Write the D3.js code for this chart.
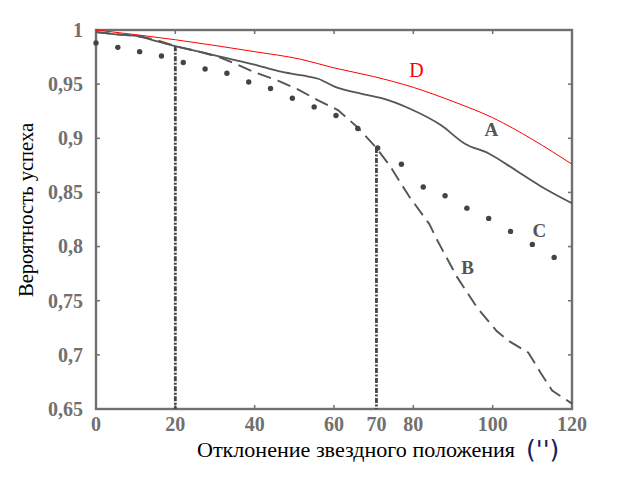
<!DOCTYPE html>
<html><head><meta charset="utf-8">
<script src="https://cdn.jsdelivr.net/npm/d3@7"></script>
<style>body{margin:0;background:#fff}svg{display:block}</style>
</head><body>
<script>
// ---- data ----
const xTicks = [0, 20, 40, 60, 80, 100, 120];
const yTicks = [0.65, 0.7, 0.75, 0.8, 0.85, 0.9, 0.95, 1];
const markerLines = [{x: 20, top: 0.985, label: null}, {x: 70.7, top: 0.891, label: "70"}];

const seriesD_x = [0, 20, 40, 51.6, 60, 70, 80, 90, 100, 110, 120];
const seriesD_y = [1, 0.991, 0.980, 0.973, 0.965, 0.957, 0.947, 0.934, 0.919, 0.899, 0.876];

const seriesA_x = [0, 5, 11, 15, 20, 26, 33, 40, 46, 52, 56, 60, 67, 72, 79, 87, 93, 99, 106, 112, 120];
const seriesA_y = [0.998, 0.996, 0.994, 0.990, 0.985, 0.980, 0.974, 0.968, 0.962, 0.958, 0.955, 0.948, 0.941, 0.937, 0.9275, 0.912, 0.895, 0.886, 0.870, 0.856, 0.840];

const seriesB_x = [0, 11, 15, 20, 26, 31, 35, 40, 46, 51, 56, 61, 66, 70.7, 74, 79, 84, 86, 91, 96, 101, 104, 109, 112, 115, 120];
const seriesB_y = [0.998, 0.994, 0.991, 0.985, 0.980, 0.975, 0.969, 0.961, 0.953, 0.945, 0.935, 0.926, 0.910, 0.891, 0.875, 0.846, 0.821, 0.806, 0.772, 0.744, 0.722, 0.713, 0.702, 0.684, 0.667, 0.655];

const seriesC_x = [0, 5.5, 11, 16.5, 22, 27.5, 33, 38.5, 44, 49.5, 55, 60.5, 66, 71, 77, 82.5, 88, 93.5, 99, 104.5, 110, 115.5];
const seriesC_y = [0.988, 0.984, 0.980, 0.976, 0.970, 0.964, 0.960, 0.952, 0.946, 0.937, 0.929, 0.921, 0.909, 0.891, 0.876, 0.855, 0.847, 0.8355, 0.826, 0.814, 0.802, 0.790];

const seriesLabels = [
  {name: "D", x: 80.8, y: 0.9568},
  {name: "A", x: 99.7, y: 0.9019},
  {name: "B", x: 93.7, y: 0.7747},
  {name: "C", x: 111.8, y: 0.809}
];
const yTitle = "Вероятность успеха";
const xTitle = "Отклонение звездного положения";
const xUnit = "('')";

// ---- chart ----
const W = 618, H = 478;
const svg = d3.select("body").append("svg").attr("width", W).attr("height", H);
const x = d3.scaleLinear().domain([0, 120]).range([96, 572]);
const y = d3.scaleLinear().domain([0.65, 1]).range([409, 30]);
const grey = "#707070", dark = "#555";
const zip = (xs, ys) => xs.map((v, i) => [v, ys[i]]);
const fmt = v => d3.format("~g")(v).replace(".", ",");
const serif = "'Liberation Serif', 'Times New Roman', serif";

// frame
svg.append("rect").attr("x", x(0)).attr("y", y(1)).attr("width", x(120) - x(0)).attr("height", y(0.65) - y(1))
  .attr("fill", "none").attr("stroke", grey).attr("stroke-width", 2.4);

// inner ticks
const tk = 4;
svg.append("g").selectAll("line").data(yTicks.slice(1, -1)).join("line")
  .attr("x1", x(0)).attr("x2", x(0) + tk).attr("y1", d => y(d)).attr("y2", d => y(d))
  .attr("stroke", grey).attr("stroke-width", 1.5);
svg.append("g").selectAll("line").data(yTicks.slice(1, -1)).join("line")
  .attr("x1", x(120)).attr("x2", x(120) - tk).attr("y1", d => y(d)).attr("y2", d => y(d))
  .attr("stroke", grey).attr("stroke-width", 1.5);
svg.append("g").selectAll("line").data(xTicks.slice(1, -1)).join("line")
  .attr("x1", d => x(d)).attr("x2", d => x(d)).attr("y1", y(1)).attr("y2", y(1) + tk)
  .attr("stroke", grey).attr("stroke-width", 1.5);
svg.append("g").selectAll("line").data(xTicks.slice(1, -1)).join("line")
  .attr("x1", d => x(d)).attr("x2", d => x(d)).attr("y1", y(0.65)).attr("y2", y(0.65) - tk)
  .attr("stroke", grey).attr("stroke-width", 1.5);

// tick labels
svg.append("g").selectAll("text").data(yTicks).join("text")
  .attr("x", 83).attr("y", d => y(d)).attr("dy", "0.34em").attr("text-anchor", "end")
  .attr("font-family", serif).attr("font-weight", "bold").attr("font-size", 20).attr("fill", grey)
  .text(fmt);
const xLab = xTicks.map(v => ({v, t: String(v)})).concat(markerLines.filter(m => m.label).map(m => ({v: m.x, t: m.label})));
svg.append("g").selectAll("text").data(xLab).join("text")
  .attr("x", d => x(d.v)).attr("y", 431).attr("text-anchor", "middle")
  .attr("font-family", serif).attr("font-weight", "bold").attr("font-size", 20).attr("fill", grey)
  .text(d => d.t);

// marker vertical dash-dot lines
svg.append("g").selectAll("line").data(markerLines).join("line")
  .attr("x1", d => x(d.x)).attr("x2", d => x(d.x)).attr("y1", d => y(d.top)).attr("y2", y(0.65))
  .attr("stroke", "#444").attr("stroke-width", 2.8).attr("stroke-dasharray", "5,1.5,2,1.5");

const line = d3.line().x(d => x(d[0])).y(d => y(d[1])).curve(d3.curveMonotoneX);

// D
svg.append("path").attr("d", line(zip(seriesD_x, seriesD_y))).attr("fill", "none")
  .attr("stroke", "#ff0000").attr("stroke-width", 1);
// A
svg.append("path").attr("d", line(zip(seriesA_x, seriesA_y))).attr("fill", "none")
  .attr("stroke", dark).attr("stroke-width", 1.8);
// B
svg.append("path").attr("d", d3.line().x(d => x(d[0])).y(d => y(d[1]))(zip(seriesB_x, seriesB_y))).attr("fill", "none")
  .attr("stroke", dark).attr("stroke-width", 1.9).attr("stroke-dasharray", "14,7");
// C
svg.append("g").selectAll("circle").data(zip(seriesC_x, seriesC_y)).join("circle")
  .attr("cx", d => x(d[0])).attr("cy", d => y(d[1])).attr("r", 2.7).attr("fill", "#444");

// series labels
svg.append("g").selectAll("text").data(seriesLabels).join("text")
  .attr("x", d => x(d.x)).attr("y", d => y(d.y)).attr("text-anchor", "middle")
  .attr("font-family", serif)
  .attr("font-weight", d => d.name === "D" ? "normal" : "bold")
  .attr("font-size", d => d.name === "D" ? 20 : 19)
  .attr("fill", d => d.name === "D" ? "#ff0000" : dark)
  .text(d => d.name);

// axis titles
svg.append("text").attr("transform", "translate(33,210) rotate(-90)").attr("text-anchor", "middle")
  .attr("font-family", serif).attr("font-size", 20).attr("fill", "#000")
  .attr("textLength", 174).attr("lengthAdjust", "spacingAndGlyphs").text(yTitle);
svg.append("text").attr("x", 197).attr("y", 457)
  .attr("font-family", serif).attr("font-size", 20).attr("fill", "#000")
  .attr("textLength", 318).attr("lengthAdjust", "spacingAndGlyphs").text(xTitle);
svg.append("text").attr("x", 526).attr("y", 458)
  .attr("font-family", "'DejaVu Sans', sans-serif").attr("font-size", 25).attr("fill", "#16205a").text(xUnit);
</script>
</body></html>
